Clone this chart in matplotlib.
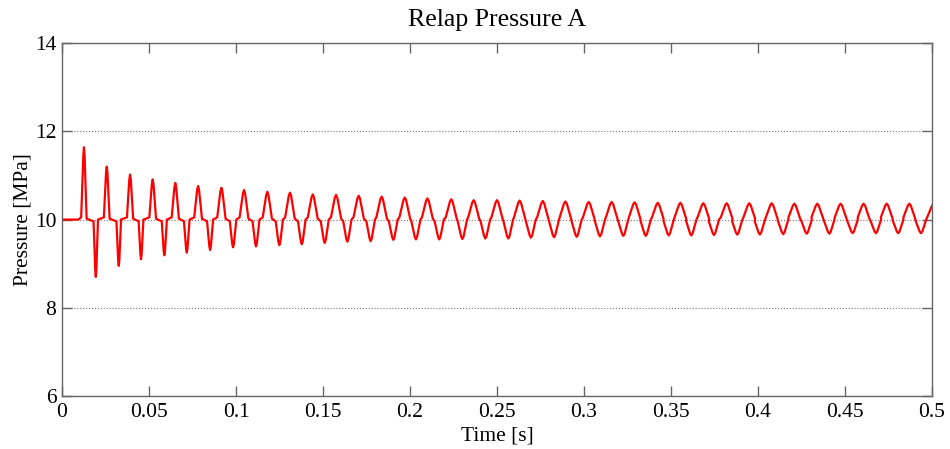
import numpy as np
import matplotlib
matplotlib.use('agg')
import matplotlib.pyplot as plt

# peak times [s] and pressures [MPa]
peak_t = [0.0126, 0.0257, 0.0391, 0.0521, 0.0651, 0.0782, 0.0916, 0.1046,
          0.1180, 0.1310, 0.1441, 0.1575, 0.1705, 0.1837, 0.1970, 0.2100,
          0.2237, 0.2366, 0.2500, 0.2630, 0.2763, 0.2893, 0.3027, 0.3159,
          0.3291, 0.3424, 0.3554, 0.3686, 0.3820, 0.3950, 0.4079, 0.4209,
          0.4341, 0.4475, 0.4607, 0.4740, 0.4870]
peak_p = [11.64, 11.20, 11.02, 10.91, 10.83, 10.76, 10.72, 10.67,
          10.63, 10.61, 10.57, 10.56, 10.54, 10.52, 10.50, 10.48,
          10.46, 10.44, 10.44, 10.43, 10.42, 10.41, 10.40, 10.40,
          10.39, 10.38, 10.38, 10.37, 10.37, 10.37, 10.37, 10.36,
          10.36, 10.36, 10.36, 10.36, 10.36]

# trough times and pressures
trough_t = [0.0194, 0.0326, 0.0454, 0.0588, 0.0717, 0.0851, 0.0983, 0.1115,
            0.1249, 0.1378, 0.1510, 0.1640, 0.1774, 0.1904, 0.2034, 0.2168,
            0.2301, 0.2433, 0.2565, 0.2695, 0.2828, 0.2958, 0.3092, 0.3226,
            0.3355, 0.3487, 0.3617, 0.3747, 0.3881, 0.4011, 0.4145, 0.4280,
            0.4410, 0.4544, 0.4678, 0.4806, 0.4937]
trough_p = [8.70, 8.95, 9.10, 9.19, 9.25, 9.31, 9.37, 9.39,
            9.42, 9.44, 9.47, 9.50, 9.51, 9.54, 9.55, 9.55,
            9.56, 9.57, 9.57, 9.59, 9.60, 9.61, 9.62, 9.63,
            9.63, 9.64, 9.64, 9.65, 9.66, 9.66, 9.67, 9.68,
            9.68, 9.69, 9.69, 9.69, 9.69]

# flat start and last sample
start_t = [0.0, 0.0094, 0.0110]
start_p = [10.0, 10.0, 10.05]
end_t = 0.5
end_p = 10.31

# half widths of the spikes, they widen as the signal smooths out (shape only)
hw_anchor_t = [0.0, 0.05, 0.1, 0.15, 0.2, 0.3, 0.5]
hw_peak = [0.0014, 0.0019, 0.0025, 0.0029, 0.0031, 0.0033, 0.0034]
hw_trough = [0.0012, 0.0014, 0.0019, 0.0023, 0.0026, 0.0029, 0.0030]


def build_trace():
    t = list(start_t)
    p = list(start_p)
    n = len(peak_t)
    for i in range(n):
        hw = np.interp(peak_t[i], hw_anchor_t, hw_peak)
        hw2 = np.interp(trough_t[i], hw_anchor_t, hw_trough)
        if i > 0:
            # shoulder before the peak
            t.append(peak_t[i] - hw)
            p.append(10.05)
        # rounded top
        t += [peak_t[i] - 0.25 * hw, peak_t[i], peak_t[i] + 0.25 * hw]
        top = peak_p[i] - 0.12 * (peak_p[i] - 10)
        p += [top, peak_p[i], top]
        # back to ~10 after the peak, then dip into the trough
        t.append(peak_t[i] + hw)
        p.append(10.02)
        t.append(trough_t[i] - hw2)
        p.append(9.96)
        bot = trough_p[i] + 0.12 * (10 - trough_p[i])
        t += [trough_t[i] - 0.25 * hw2, trough_t[i], trough_t[i] + 0.25 * hw2]
        p += [bot, trough_p[i], bot]
        t.append(trough_t[i] + hw2)
        p.append(10.0)
    t.append(end_t)
    p.append(end_p)
    return np.array(t), np.array(p)


time, pressure = build_trace()

plt.rcParams['font.family'] = ['Liberation Serif', 'DejaVu Serif']
plt.rcParams['font.size'] = 15.5

fig = plt.figure(figsize=(9.5, 4.49), dpi=100)
ax = fig.add_axes([0.0653, 0.118, 0.9157, 0.786])

ax.plot(time, pressure, color='red', linewidth=1.6)

ax.set_xlim(0, 0.5)
ax.set_ylim(6, 14)
ax.set_xticks(np.arange(0, 0.51, 0.05))
ax.set_xticklabels(['0', '0.05', '0.1', '0.15', '0.2', '0.25', '0.3',
                    '0.35', '0.4', '0.45', '0.5'])
ax.set_yticks([6, 8, 10, 12, 14])

# MATLAB look: ticks inside on all sides, dotted horizontal grid
ax.tick_params(direction='in', length=7, width=1, color='#666666',
               top=True, right=True)
ax.tick_params(axis='x', pad=5)
ax.tick_params(axis='y', pad=4)
for s in ax.spines.values():
    s.set_color('#666666')
    s.set_linewidth(1)
ax.yaxis.grid(True, linestyle=':', color='#777777', linewidth=0.8)

ax.set_title('Relap Pressure A', pad=12)
ax.set_xlabel('Time [s]', labelpad=3)
ax.set_ylabel('Pressure [MPa]', labelpad=2)

plt.savefig('out.png', dpi=100)
plt.close()
